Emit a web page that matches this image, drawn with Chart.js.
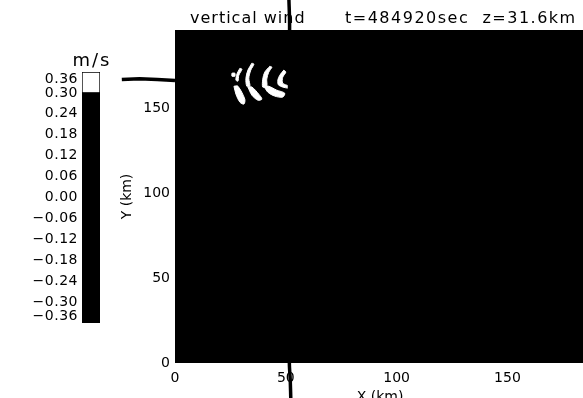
<!DOCTYPE html>
<html>
<head>
<meta charset="utf-8">
<script src="https://cdn.jsdelivr.net/npm/chart.js@4.4.1/dist/chart.umd.min.js"></script>
<style>
  html, body { margin: 0; padding: 0; background: #fff; overflow: hidden; }
  #wrap { position: relative; width: 583px; height: 398px; overflow: hidden; }
  #field, #colorbar { position: absolute; left: 0; top: 0; }
</style>
</head>
<body>
<div id="wrap">
  <canvas id="field" width="590" height="410"></canvas>
  <canvas id="colorbar" width="120" height="340"></canvas>
</div>
<script>
// domain (km)
const xTicks = [0, 50, 100, 150];
const yTicks = [0, 50, 100, 150];
const xMax = 185;
const yMax = 196;

// colour scale (m/s)
const levelTicks = [0.36, 0.30, 0.24, 0.18, 0.12, 0.06, 0.00, -0.06, -0.12, -0.18, -0.24, -0.30, -0.36];
const levelBounds = [-0.36, 0.30, 0.36];
const levelColors = ["#000", "#fff"];

// cells with w > 0.30 m/s, outlines in km
const cellDot = [[25.7, 170.6], [27.0, 170.6], [27.0, 168.8], [25.7, 168.8]];
const cellArc0 = [[29.3, 173.5], [27.9, 170.0], [27.5, 166.5], [28.4, 165.9], [28.8, 169.4], [30.2, 172.9]];
const cellArc1 = [[34.7, 176.5], [32.9, 172.4], [32.0, 167.6], [32.4, 162.9], [33.8, 162.9], [33.3, 167.6], [34.2, 172.4], [35.6, 175.9]];
const cellArc2 = [[42.8, 174.7], [40.5, 171.2], [39.6, 167.1], [39.6, 162.4], [41.4, 162.9], [41.4, 167.1], [42.3, 171.2], [43.7, 174.1]];
const cellArc3 = [[49.1, 172.4], [47.3, 169.4], [46.4, 166.5], [46.8, 163.5], [50.9, 161.8], [51.4, 162.9], [48.6, 164.7], [48.6, 168.2], [50.0, 171.2]];
const cellBand1 = [[26.6, 162.9], [28.4, 162.9], [31.5, 155.3], [31.1, 152.4], [29.3, 153.5], [27.5, 158.2]];
const cellBand2 = [[32.9, 162.4], [34.7, 162.4], [37.8, 158.2], [39.2, 155.3], [37.4, 154.7], [34.7, 157.6]];
const cellBand3 = [[40.1, 162.9], [42.3, 162.9], [45.9, 160.6], [49.5, 158.8], [48.6, 156.5], [45.0, 157.1], [41.9, 159.4]];
const cells = [cellDot, cellArc0, cellArc1, cellArc2, cellArc3, cellBand1, cellBand2, cellBand3];

// scratches on the plate (unsorted on purpose so every point is drawn)
const scratchV = [[51.4, 214], [51.7, 200], [51.6, 0], [52.0, -10], [52.3, -24]];
const scratchH = [[0, 166.3], [-8, 166.8], [-16, 167.3], [-24, 166.8]];

const FONT = "DejaVu Sans";
const toPts = arr => arr.map(p => ({ x: p[0], y: p[1] }));
const closed = arr => toPts(arr.concat([arr[0]]));

const plateBg = {
  id: "plateBg",
  beforeDatasetsDraw(chart) {
    const { ctx, chartArea: a } = chart;
    ctx.save();
    ctx.fillStyle = "#000";
    ctx.fillRect(a.left, a.top, a.right - a.left, a.bottom - a.top);
    ctx.font = "16px '" + FONT + "'";
    ctx.textBaseline = "alphabetic";
    ctx.letterSpacing = "1px";
    ctx.fillText("vertical wind", 190, 23);
    ctx.letterSpacing = "1.5px";
    ctx.fillText("t=484920sec  z=31.6km", 345, 23);
    ctx.restore();
  }
};

const scratchSet = (pts, tension) => ({
  data: toPts(pts),
  borderColor: "#000",
  borderWidth: 3.5,
  pointRadius: 0,
  tension: tension,
  fill: false,
  clip: false
});

const cellSets = cells.map(c => ({
  data: closed(c),
  borderColor: "#fff",
  backgroundColor: "#fff",
  borderWidth: 1,
  pointRadius: 0,
  tension: 0.3,
  fill: "shape"
}));

new Chart(document.getElementById("field"), {
  type: "line",
  data: { datasets: [scratchSet(scratchV, 0.3), scratchSet(scratchH, 0), ...cellSets] },
  options: {
    responsive: false,
    animation: false,
    layout: { padding: { left: 115, top: 30, right: 5, bottom: 0 } },
    plugins: { legend: { display: false }, tooltip: { enabled: false } },
    scales: {
      x: {
        type: "linear",
        min: 0,
        max: xMax,
        afterBuildTicks: s => { s.ticks = xTicks.map(v => ({ value: v })); },
        afterFit: s => { s.height = 47; },
        grid: { display: false, drawTicks: false },
        border: { display: false },
        ticks: { color: "#000", font: { family: FONT, size: 14 }, padding: 7, maxRotation: 0 },
        title: { display: true, text: "X (km)", color: "#000", font: { family: FONT, size: 14 } }
      },
      y: {
        type: "linear",
        min: 0,
        max: yMax,
        afterBuildTicks: s => { s.ticks = yTicks.map(v => ({ value: v })); },
        afterFit: s => { s.width = 60; },
        grid: { display: false, drawTicks: false },
        border: { display: false },
        ticks: { color: "#000", font: { family: FONT, size: 14 }, padding: 5 },
        title: { display: true, text: "Y (km)", color: "#000", font: { family: FONT, size: 14 } }
      }
    }
  },
  plugins: [plateBg]
});

const fmtLevel = v => (v < 0 ? "\u2212" : "") + Math.abs(v).toFixed(2);

const levelLabels = {
  id: "levelLabels",
  afterDraw(chart) {
    const { ctx, chartArea: a, scales } = chart;
    ctx.save();
    ctx.fillStyle = "#000";
    ctx.font = "18px '" + FONT + "'";
    ctx.letterSpacing = "2px";
    ctx.textAlign = "center";
    ctx.textBaseline = "alphabetic";
    ctx.fillText("m/s", (a.left + a.right) / 2 + 1, a.top - 6);
    ctx.font = "14px '" + FONT + "'";
    ctx.letterSpacing = "0.5px";
    ctx.textAlign = "right";
    ctx.textBaseline = "middle";
    levelTicks.forEach(v => {
      let y = scales.y.getPixelForValue(v);
      y = Math.min(Math.max(y, a.top + 7), a.bottom - 7);
      ctx.fillText(fmtLevel(v), a.left - 4, y);
    });
    ctx.restore();
  }
};

new Chart(document.getElementById("colorbar"), {
  type: "bar",
  data: {
    labels: [""],
    datasets: levelColors.map((c, i) => ({
      data: [[levelBounds[i], levelBounds[i + 1]]],
      backgroundColor: c,
      borderColor: "#000",
      borderWidth: 1,
      borderSkipped: false,
      grouped: false,
      barPercentage: 1,
      categoryPercentage: 1
    }))
  },
  options: {
    responsive: false,
    animation: false,
    layout: { padding: { left: 82, right: 20, top: 72, bottom: 17 } },
    plugins: { legend: { display: false }, tooltip: { enabled: false } },
    scales: {
      x: { display: false },
      y: { display: false, min: -0.36, max: 0.36 }
    }
  },
  plugins: [levelLabels]
});
</script>
</body>
</html>
